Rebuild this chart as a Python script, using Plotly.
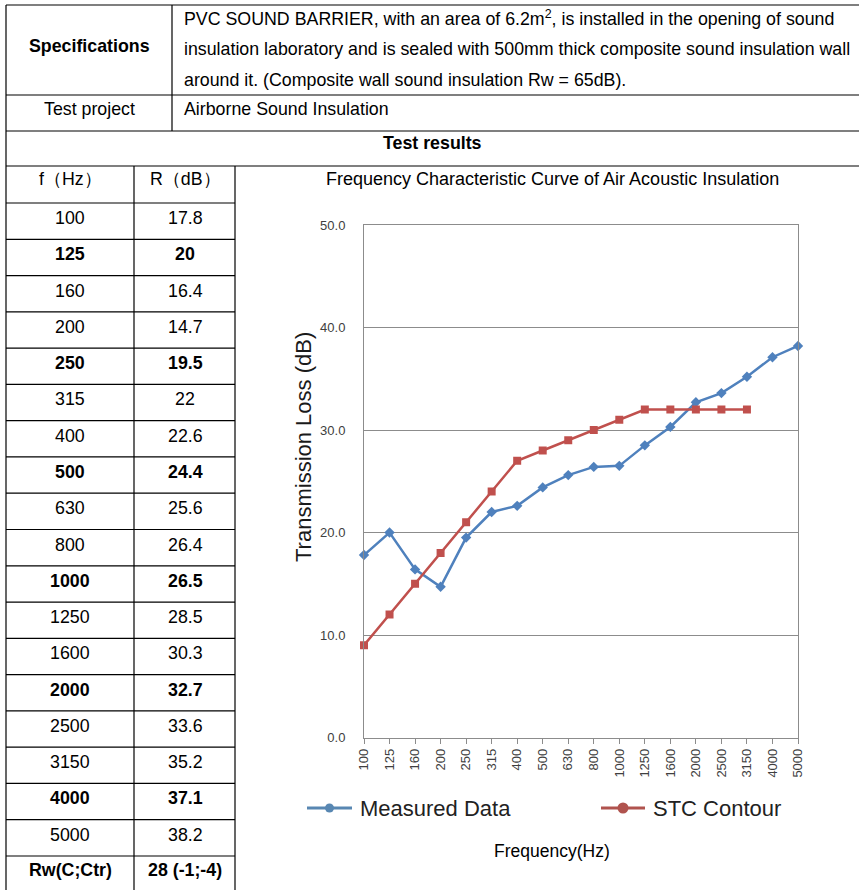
import plotly.graph_objects as go

# ---------------- data ----------------
freqs = ["100", "125", "160", "200", "250", "315", "400", "500", "630", "800",
         "1000", "1250", "1600", "2000", "2500", "3150", "4000", "5000"]
measured = [17.8, 20, 16.4, 14.7, 19.5, 22, 22.6, 24.4, 25.6, 26.4,
            26.5, 28.5, 30.3, 32.7, 33.6, 35.2, 37.1, 38.2]
stc_freqs = ["100", "125", "160", "200", "250", "315", "400", "500", "630", "800",
             "1000", "1250", "1600", "2000", "2500", "3150"]
stc_contour = [9, 12, 15, 18, 21, 24, 27, 28, 29, 30, 31, 32, 32, 32, 32, 32]
bold_freqs = ["125", "250", "500", "1000", "2000", "4000"]
rw_label = "Rw(C;Ctr)"
rw_value = "28 (-1;-4)"
y_ticks = [0, 10, 20, 30, 40, 50]
series_names = ["Measured Data", "STC Contour"]

spec_lines = [
    "PVC SOUND BARRIER, with an area of 6.2m<sup>2</sup>, is installed in the opening of sound",
    "insulation laboratory and is sealed with 500mm thick composite sound insulation wall",
    "around it. (Composite wall sound insulation Rw = 65dB).",
]

W, H = 859, 890
BLUE = "#4F81BD"
RED = "#C0504D"
LEG_BLUE = "#5887B2"
LEG_RED = "#B0534E"
TFONT = "Liberation Sans, Arial, Helvetica, sans-serif"
TS = 17.8


def px(x):
    return x / W


def py(y):
    return 1 - y / H


fig = go.Figure()

fig.add_trace(go.Scatter(
    x=freqs, y=measured, mode="lines+markers", name=series_names[0],
    line=dict(color=BLUE, width=2.5),
    marker=dict(symbol="diamond", size=8, color=BLUE),
    showlegend=False, cliponaxis=False))
fig.add_trace(go.Scatter(
    x=stc_freqs, y=stc_contour, mode="lines+markers", name=series_names[1],
    line=dict(color=RED, width=2.5),
    marker=dict(symbol="square", size=8, color=RED),
    showlegend=False, cliponaxis=False))

# ---------------- table lines ----------------
shapes = []


def hline(y, x0, x1, color="black", width=1.2):
    shapes.append(dict(type="line", xref="paper", yref="paper",
                       x0=px(x0), x1=px(x1), y0=py(y), y1=py(y),
                       line=dict(color=color, width=width)))


def vline(x, y0, y1):
    shapes.append(dict(type="line", xref="paper", yref="paper",
                       x0=px(x), x1=px(x), y0=py(y0), y1=py(y1),
                       line=dict(color="black", width=1.2)))


for yy in [5, 95, 131, 166]:
    hline(yy, 6, 862)
vline(6, 5, 895)
vline(172, 5, 131)
vline(134, 166, 895)
vline(235, 166, 895)

row_top = 203
row_h = (856 - 203) / 18
n_rows = len(freqs) + 1
for k in range(n_rows):
    hline(row_top + k * row_h, 6, 235)

# ---------------- table text ----------------
ann = []


def text(x, y, s, size=TS, bold=False, anchor="center", color="black", font=TFONT):
    ann.append(dict(xref="paper", yref="paper", x=px(x), y=py(y),
                    text=("<b>%s</b>" % s) if bold else s, showarrow=False,
                    xanchor=anchor, yanchor="middle",
                    font=dict(family=font, size=size, color=color)))


text(89, 46, "Specifications", bold=True)
for i, line in enumerate(spec_lines):
    text(182, 18 + i * 31, line, anchor="left")
text(89, 109, "Test project")
text(182, 109, "Airborne Sound Insulation", anchor="left")
text(432, 143, "Test results", bold=True)
text(70, 179, "f（Hz）")
text(185, 179, "R（dB）")

for k, (f, r) in enumerate(zip(freqs, measured)):
    yc = row_top + k * row_h + 15
    b = f in bold_freqs
    text(70, yc, f, bold=b)
    text(185, yc, ("%g" % r), bold=b)
yc = row_top + len(freqs) * row_h + 14
text(70, yc, rw_label, bold=True)
text(185, yc, rw_value, bold=True)

# ---------------- chart text ----------------
text(552, 179, "Frequency Characteristic Curve of Air Acoustic Insulation", size=18)
text(552, 851, "Frequency(Hz)", size=17.5)
ann.append(dict(xref="paper", yref="paper", x=px(303), y=py(447),
                text="Transmission Loss (dB)", showarrow=False, textangle=-90,
                xanchor="center", yanchor="middle",
                font=dict(family=TFONT, size=22, color="#1a1a1a")))

# ---------------- legend (drawn below the chart) ----------------
leg_y = 808
for name, col, x0, x1, r in [(series_names[0], LEG_BLUE, 307, 352, 4.5),
                              (series_names[1], LEG_RED, 601, 645, 5.5)]:
    hline(leg_y, x0, x1, color=col, width=3)
    cx = (x0 + x1) / 2
    shapes.append(dict(type="circle", xref="paper", yref="paper",
                       x0=px(cx - r), x1=px(cx + r), y0=py(leg_y + r), y1=py(leg_y - r),
                       fillcolor=col, line=dict(color=col, width=0)))
    text(x1 + 6, leg_y, name, size=22, anchor="left", color="#222222")

fig.update_layout(
    width=W, height=H,
    margin=dict(l=0, r=0, t=0, b=0, autoexpand=False),
    paper_bgcolor="white", plot_bgcolor="white",
    shapes=shapes, annotations=ann,
    showlegend=False,
    xaxis=dict(domain=[px(364), px(798)], type="category", range=[0, 17],
               showgrid=False, showline=True, linecolor="#8c8c8c", linewidth=1, mirror=True,
               ticks="outside", ticklen=5, tickcolor="#8c8c8c", tickangle=-90,
               tickfont=dict(family=TFONT, size=13, color="#404040"),
               fixedrange=True),
    yaxis=dict(domain=[py(737.5), py(225)], range=[0, 50], tickvals=y_ticks,
               tickformat=".1f", showgrid=True, gridcolor="#8c8c8c", gridwidth=1,
               zeroline=False, showline=True, linecolor="#8c8c8c", linewidth=1, mirror=True,
               ticks="", ticklabelstandoff=15,
               tickfont=dict(family=TFONT, size=13, color="#404040"),
               fixedrange=True),
)

fig.write_html("out.html", config={"displayModeBar": False},
               post_script="document.body.style.margin='0';")
